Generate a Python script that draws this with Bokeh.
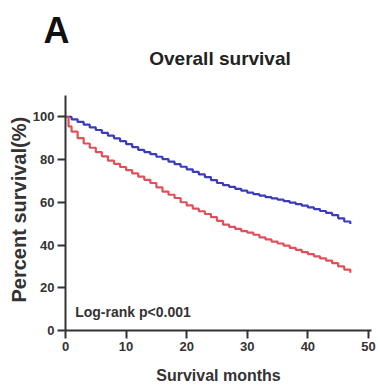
from bokeh.plotting import figure
from bokeh.models import Range1d, FixedTicker, Label, Title
from bokeh.embed import file_html
from bokeh.resources import INLINE

# Survival curves (months, percent surviving)
months_blue = [0, 1, 2, 3, 4, 5, 6, 7, 8, 9, 10, 11, 12, 13, 14, 15, 16, 17, 18, 19, 20,
               21, 22, 23, 24, 25, 26, 27, 28, 29, 30, 31, 32, 33, 34, 35, 36, 37, 38, 39,
               40, 41, 42, 43, 44, 45, 46, 47]
surv_blue = [100, 98.8, 97.6, 96.3, 95, 93.8, 92.5, 91.2, 89.9, 88.6, 87.2, 85.8, 84.5, 83.5,
             82.5, 81.3, 80.2, 79, 77.8, 76.6, 75.4, 74.2, 73, 71.8, 70.4, 69, 68, 67.2,
             66.3, 65.4, 64.5, 63.8, 63.1, 62.4, 61.8, 61.2, 60.5, 59.8, 59.1, 58.4, 57.6,
             56.8, 55.9, 55, 54, 52.5, 51, 49.8]

months_red = [0, 0.5, 1, 2, 3, 4, 5, 6, 7, 8, 9, 10, 11, 12, 13, 14, 15, 16, 17, 18, 19, 20,
              21, 22, 23, 24, 25, 26, 27, 28, 29, 30, 31, 32, 33, 34, 35, 36, 37, 38, 39,
              40, 41, 42, 43, 44, 45, 46, 47]
surv_red = [100, 95.5, 93, 90, 87.5, 85.5, 83.5, 81.5, 79.5, 78, 76.5, 75, 73.5, 72, 70.5,
            69, 67, 65, 63.5, 62, 60, 58.5, 57, 55.8, 54.5, 53, 51.3, 49.5, 48.5, 47.5,
            46.5, 45.8, 44.8, 43.6, 42.6, 41.6, 40.7, 39.7, 38.7, 37.7, 36.7, 35.7, 34.7,
            33.7, 32.7, 31.5, 30, 28.5, 27]

x_ticks = [0, 10, 20, 30, 40, 50]
y_ticks = [0, 20, 40, 60, 80, 100]

FONT = "Liberation Sans"

# the frame reaches above the axis so the chart title can sit inside it
p = figure(width=380, height=388, output_backend="svg", toolbar_location=None,
           x_range=Range1d(0, 50.5), y_range=Range1d(0, 131),
           min_border_left=65, min_border_right=9, min_border_top=50, min_border_bottom=58)
p.title = None
p.outline_line_color = None
p.grid.visible = False
p.background_fill_color = "white"

p.step(months_blue, surv_blue, mode="after", line_color="#3b3bbb", line_width=2.2)
p.step(months_red, surv_red, mode="after", line_color="#e0505a", line_width=2.2)

for ax in (p.xaxis[0], p.yaxis[0]):
    ax.axis_line_width = 2
    ax.axis_line_color = "#333333"
    ax.major_tick_line_width = 2
    ax.major_tick_line_color = "#333333"
    ax.major_tick_out = 8
    ax.major_tick_in = 0
    ax.minor_tick_line_color = None
    ax.major_label_text_font = FONT
    ax.major_label_text_font_style = "bold"
    ax.major_label_text_font_size = "13px"
    ax.major_label_text_color = "#333333"
    ax.axis_label_text_font = FONT
    ax.axis_label_text_font_style = "bold"
    ax.axis_label_text_color = "#333333"

p.xaxis.ticker = FixedTicker(ticks=x_ticks)
p.yaxis.ticker = FixedTicker(ticks=y_ticks)
p.yaxis.bounds = (0, 110)
p.xaxis.axis_label = "Survival months"
p.xaxis.axis_label_text_font_size = "16px"
p.xaxis.axis_label_standoff = 13
p.xaxis.major_label_standoff = 3
p.yaxis.major_label_standoff = 3

# y-axis title, anchored near the bottom of the axis like the original
p.add_layout(Title(text="Percent survival(%)", align="left", offset=28, text_font=FONT,
                   text_font_style="bold", text_font_size="20px", text_color="#333333",
                   standoff=0), "left")

p.add_layout(Label(x=1.6, y=8.8, text="Log-rank p<0.001", text_font=FONT,
                   text_font_style="bold", text_font_size="14px", text_color="#333333",
                   text_baseline="middle", text_align="left"))
p.add_layout(Label(x=25.5, y=127.2, text="Overall survival", text_font=FONT,
                   text_font_style="bold", text_font_size="19px", text_color="#222222",
                   text_baseline="middle", text_align="center"))

p.add_layout(Title(text="A", align="left", offset=-22, text_font=FONT,
                   text_font_style="bold", text_font_size="36px", text_color="#111111",
                   standoff=0), "above")

open("out.html", "w").write(file_html(p, INLINE))
